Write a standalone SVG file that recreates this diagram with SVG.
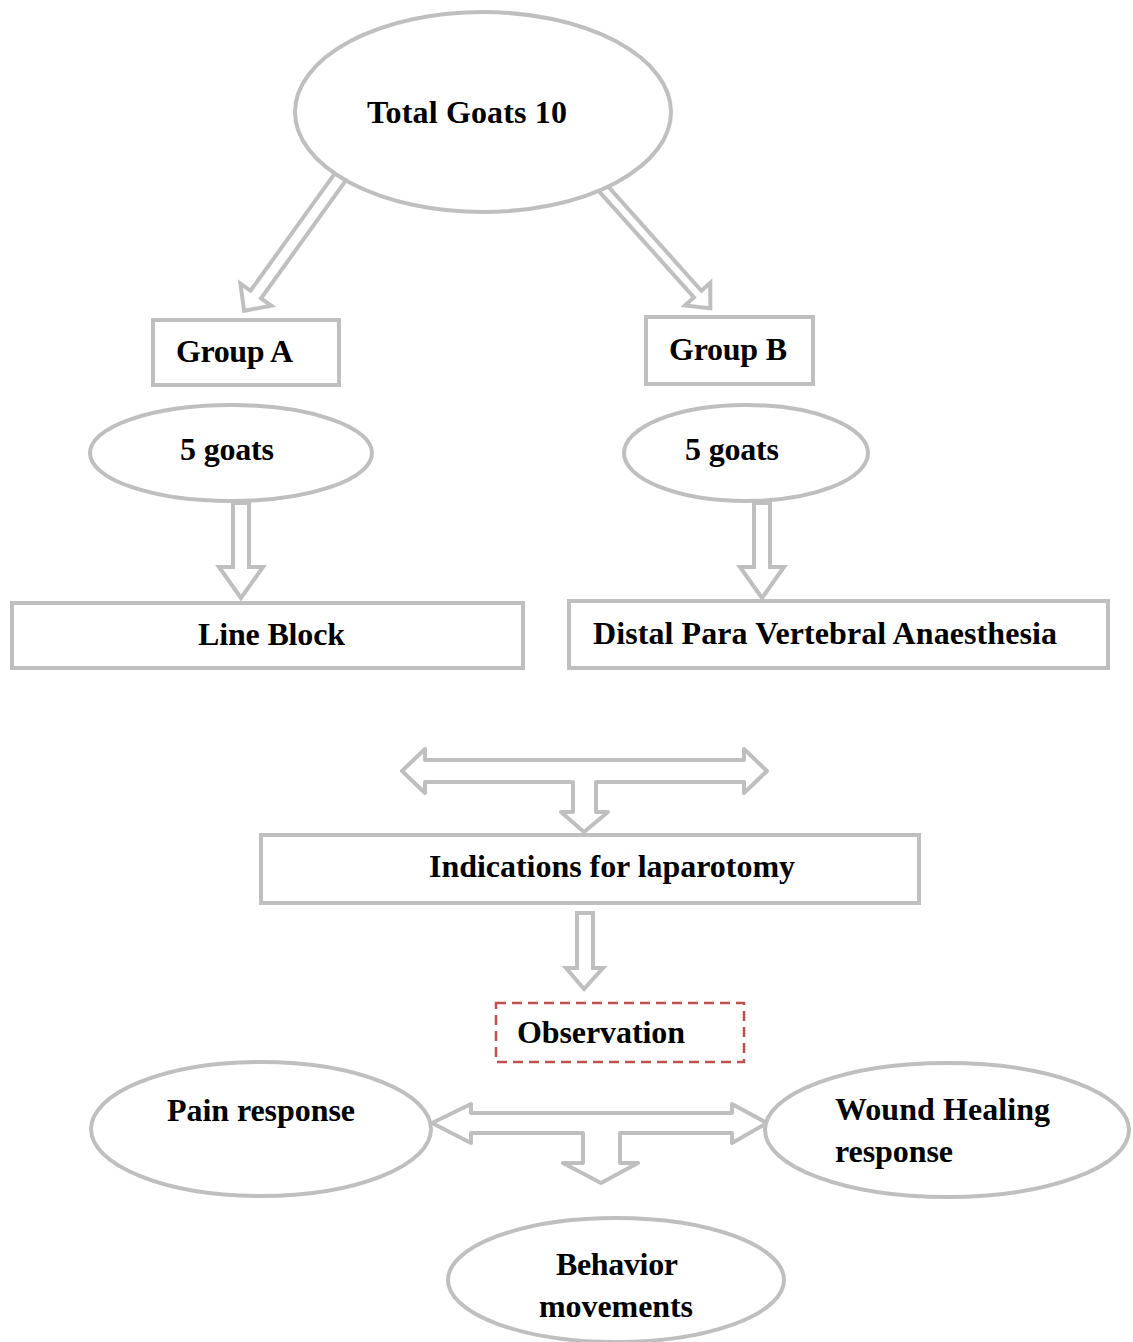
<svg xmlns="http://www.w3.org/2000/svg" width="1133" height="1342" viewBox="0 0 1133 1342">
<style>
.n{fill:#fff;stroke:#bfbfbf;stroke-width:4}
.a{fill:#fff;stroke:#bfbfbf;stroke-width:4;stroke-linejoin:miter}
.t{fill:none;stroke:#bfbfbf;stroke-width:4;stroke-linejoin:round}
.o{fill:#fff;stroke:#c0504d;stroke-width:2.5;stroke-dasharray:10 6}
text{font-family:"Liberation Serif","Times New Roman",serif;font-weight:bold;font-size:32px;fill:#000}
</style>
<rect width="1133" height="1342" fill="#fff"/>
<g id="connectors">
<polygon class="a" points="0,-6.5 146,-6.5 146,-19 166,0 146,19 146,6.5 0,6.5" transform="translate(341,176) rotate(125.7)"/>
<polygon class="a" points="0,-5 145,-5 145,-17 164,0 145,17 145,5 0,5" transform="translate(601,186) rotate(48.2)"/>
<polygon class="a" points="233,503 233,567 219,567 241,598 263,567 249,567 249,503"/>
<polygon class="a" points="754,503 754,567 740,567 762,598 784,567 770,567 770,503"/>
<path class="t" d="M402,771 L425,749 L425,760 L744,760 L744,749 L767,771 L744,793 L744,782 L596,782 L596,812 L608,812 L584,832 L561,812 L573,812 L573,782 L425,782 L425,793 Z"/>
<polygon class="a" points="577,913 577,968 566,968 584,989 603,968 593,968 593,913"/>
<path class="t" d="M432,1123 L471,1104 L471,1113 L732,1113 L732,1104 L767,1123 L732,1143 L732,1133 L620,1133 L620,1163 L638,1163 L601,1183 L563,1163 L583,1163 L583,1133 L471,1133 L471,1143 Z"/>
</g>
<g id="total"><ellipse class="n" cx="483" cy="112" rx="188" ry="100"/><text x="367" y="123" textLength="200">Total Goats 10</text></g>
<g id="groupA"><rect class="n" x="153" y="320" width="186" height="65"/><text x="176" y="362" textLength="117">Group A</text></g>
<g id="groupB"><rect class="n" x="646" y="317" width="167" height="67"/><text x="669" y="360" textLength="118">Group B</text></g>
<g id="goatsA"><ellipse class="n" cx="231" cy="453" rx="141" ry="48"/><text x="180" y="460" textLength="94">5 goats</text></g>
<g id="goatsB"><ellipse class="n" cx="746" cy="453" rx="122" ry="48"/><text x="685" y="460" textLength="94">5 goats</text></g>
<g id="lineBlock"><rect class="n" x="12" y="603" width="511" height="65"/><text x="198" y="645" textLength="147">Line Block</text></g>
<g id="dpva"><rect class="n" x="569" y="601" width="539" height="67"/><text x="593" y="644" textLength="464">Distal Para Vertebral Anaesthesia</text></g>
<g id="indications"><rect class="n" x="261" y="835" width="658" height="68"/><text x="429" y="877" textLength="366">Indications for laparotomy</text></g>
<g id="observation"><rect class="o" x="496" y="1003" width="248" height="59"/><text x="517" y="1043" textLength="168">Observation</text></g>
<g id="pain"><ellipse class="n" cx="261" cy="1129" rx="170" ry="67"/><text x="167" y="1121" textLength="188">Pain response</text></g>
<g id="wound"><ellipse class="n" cx="947" cy="1130" rx="182" ry="67"/><text x="835" y="1120" textLength="215">Wound Healing</text><text x="835" y="1162" textLength="118">response</text></g>
<g id="behavior"><ellipse class="n" cx="616" cy="1280" rx="168" ry="62"/><text x="556" y="1275" textLength="122">Behavior</text><text x="539" y="1317" textLength="154">movements</text></g>
</svg>
